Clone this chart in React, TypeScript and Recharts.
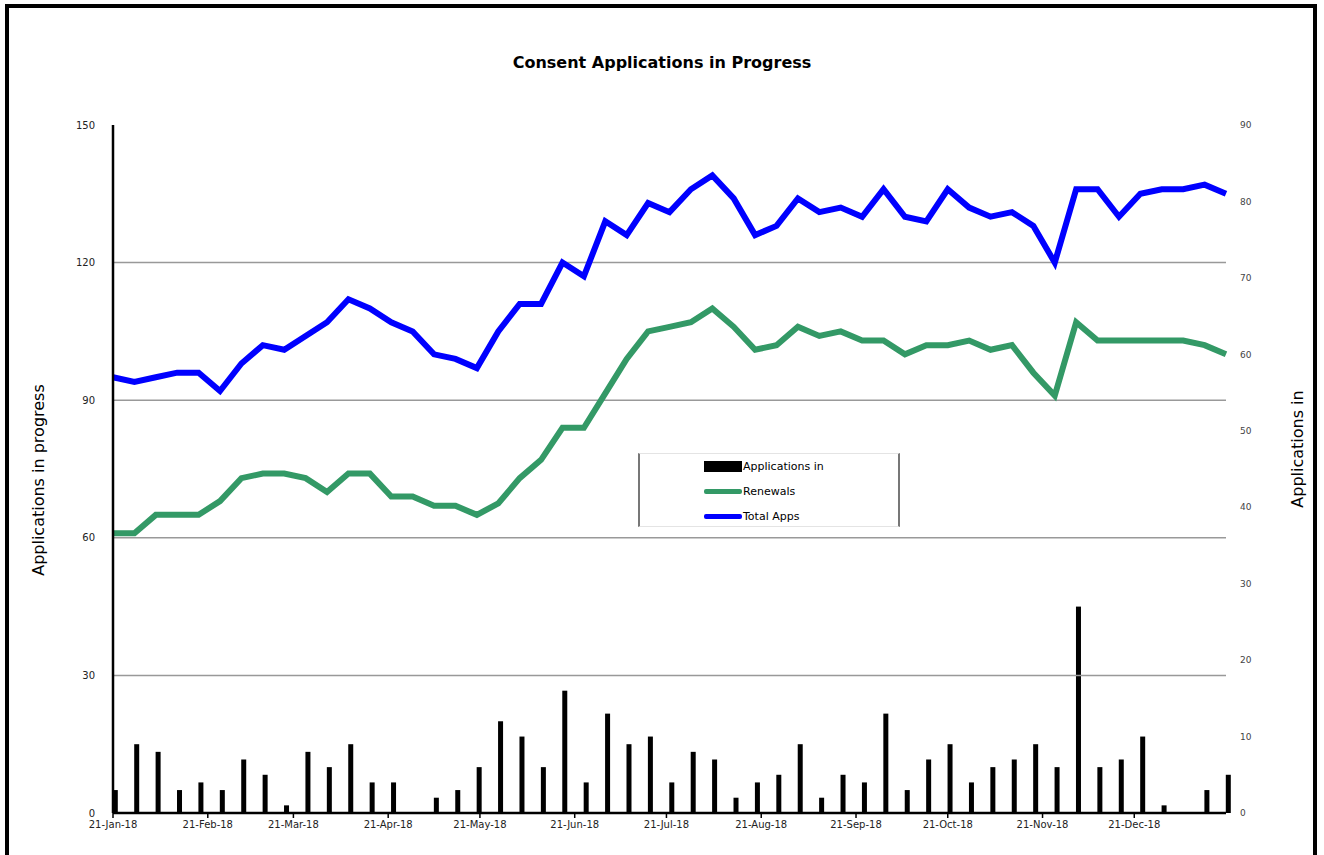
import { ComposedChart, Bar, Line, XAxis, YAxis, ReferenceLine, Legend } from 'recharts';

// weekly snapshots, starting 21-Jan-18
const totalApps = [
  95, 94, 95, 96, 96, 92, 98, 102, 101, 104, 107, 112, 110, 107, 105, 100, 99, 97,
  105, 111, 111, 120, 117, 129, 126, 133, 131, 136, 139, 134, 126, 128, 134, 131, 132,
  130, 136, 130, 129, 136, 132, 130, 131, 128, 120, 136, 136, 130, 135, 136, 136, 137, 135,
];

const renewals = [
  61, 61, 65, 65, 65, 68, 73, 74, 74, 73, 70, 74, 74, 69, 69, 67, 67, 65,
  67.5, 73, 77, 84, 84, 91.5, 99, 105, 106, 107, 110, 106, 101, 102, 106, 104, 105,
  103, 103, 100, 102, 102, 103, 101, 102, 96, 91, 107, 103, 103, 103, 103, 103, 102, 100,
];

const applicationsIn = [
  3, 9, 8, 3, 4, 3, 7, 5, 1, 8, 6, 9, 4, 4, 0, 2, 3, 6,
  12, 10, 6, 16, 4, 13, 9, 10, 4, 8, 7, 2, 4, 5, 9, 2, 5,
  4, 13, 3, 7, 9, 4, 6, 7, 9, 6, 27, 6, 7, 10, 1, 0, 3, 5,
];

const monthTickDays = [0, 31, 59, 90, 120, 151, 181, 212, 243, 273, 304, 334];
const monthTickLabels = [
  '21-Jan-18', '21-Feb-18', '21-Mar-18', '21-Apr-18', '21-May-18', '21-Jun-18',
  '21-Jul-18', '21-Aug-18', '21-Sep-18', '21-Oct-18', '21-Nov-18', '21-Dec-18',
];

const leftTicks = [0, 30, 60, 90, 120, 150];
const rightTicks = [0, 10, 20, 30, 40, 50, 60, 70, 80, 90];
const gridValues = [30, 60, 90, 120];

const data = totalApps.map((t, i) => ({
  day: i * 7,
  total: t,
  renewals: renewals[i],
  appsIn: applicationsIn[i],
}));

const FONT = 'DejaVu Sans, Verdana, sans-serif';

const legendItems = [
  { label: 'Applications in', kind: 'bar', color: '#000000' },
  { label: 'Renewals', kind: 'line', color: '#339966' },
  { label: 'Total Apps', kind: 'line', color: '#0000FF' },
];

function LegendBox() {
  return (
    <div
      style={{
        width: 262,
        height: 74,
        boxSizing: 'border-box',
        borderTop: '1px solid #e4e4e4',
        borderBottom: '1px solid #e4e4e4',
        borderLeft: '2px solid #777',
        borderRight: '2px solid #777',
        background: '#fff',
        fontFamily: FONT,
        fontSize: 11,
        color: '#000',
        paddingTop: 0,
      }}
    >
      {legendItems.map((it) => (
        <div key={it.label} style={{ display: 'flex', alignItems: 'center', height: 25, paddingLeft: 64 }}>
          <div
            style={{
              width: 38,
              height: it.kind === 'bar' ? 11 : 5,
              background: it.color,
              borderRadius: it.kind === 'bar' ? 0 : 2,
            }}
          />
          <span style={{ marginLeft: 1 }}>{it.label}</span>
        </div>
      ))}
    </div>
  );
}

const BarShape = (p: any) => (
  <rect x={p.x + p.width / 2} y={p.y} width={p.width} height={p.height} fill="#000" />
);

export default function App() {
  return (
    <div style={{ position: 'absolute', left: 0, top: 0, width: 1324, height: 855, background: '#fff', overflow: 'hidden' }}>
      <div
        style={{
          position: 'absolute',
          left: 5,
          top: 4,
          width: 1312,
          height: 860,
          boxSizing: 'border-box',
          border: '4px solid #000',
        }}
      />
      <ComposedChart
        width={1324}
        height={855}
        data={data}
        margin={{ top: 125, right: 58, bottom: 12, left: 73 }}
        style={{ position: 'absolute', left: 0, top: 0 }}
      >
        <XAxis
          dataKey="day"
          type="number"
          domain={[0, 364]}
          ticks={monthTickDays}
          interval={0}
          tickFormatter={(v: number) => monthTickLabels[monthTickDays.indexOf(v)] ?? ''}
          height={30}
          axisLine={{ stroke: '#000', strokeWidth: 2.5 }}
          tickLine={{ stroke: '#000', strokeWidth: 1.5 }}
          tickSize={5}
          tickMargin={3}
          tick={{ fontSize: 10, fill: '#222', fontFamily: FONT }}
        />
        <YAxis
          yAxisId="left"
          domain={[0, 150]}
          ticks={leftTicks}
          width={40}
          axisLine={{ stroke: '#000', strokeWidth: 2.5 }}
          tickLine={false}
          tickSize={0}
          tickMargin={18}
          tick={{ fontSize: 10, fill: '#222', fontFamily: FONT }}
        />
        <YAxis
          yAxisId="right"
          orientation="right"
          domain={[0, 90]}
          ticks={rightTicks}
          width={40}
          axisLine={false}
          tickLine={false}
          tickSize={0}
          tickMargin={14}
          tick={{ fontSize: 9, fill: '#444', fontFamily: FONT }}
        />
        {gridValues.map((g) => (
          <ReferenceLine key={g} yAxisId="left" y={g} stroke="#999" strokeWidth={1.5} />
        ))}
        <Bar
          yAxisId="right"
          dataKey="appsIn"
          barSize={5}
          fill="#000"
          shape={BarShape}
          isAnimationActive={false}
        />
        <Line
          yAxisId="left"
          dataKey="renewals"
          stroke="#339966"
          strokeWidth={6}
          dot={false}
          activeDot={false}
          isAnimationActive={false}
        />
        <Line
          yAxisId="left"
          dataKey="total"
          stroke="#0000FF"
          strokeWidth={6}
          dot={false}
          activeDot={false}
          isAnimationActive={false}
        />
        <Legend
          layout="horizontal"
          verticalAlign="middle"
          align="center"
          content={() => <LegendBox />}
          wrapperStyle={{ left: 638, top: 453, width: 262, height: 74 }}
        />
      </ComposedChart>
      <svg width={1324} height={855} style={{ position: 'absolute', left: 0, top: 0, pointerEvents: 'none' }}>
        <text x={662} y={68} textAnchor="middle" fontFamily={FONT} fontSize={16} fontWeight="bold" fill="#000">
          Consent Applications in Progress
        </text>
        <text
          x={44}
          y={480}
          textAnchor="middle"
          fontFamily={FONT}
          fontSize={16}
          fill="#000"
          transform="rotate(-90 44 480)"
        >
          Applications in progress
        </text>
        <text
          x={1303}
          y={449}
          textAnchor="middle"
          fontFamily={FONT}
          fontSize={16}
          fill="#000"
          transform="rotate(-90 1303 449)"
        >
          Applications in
        </text>
      </svg>
    </div>
  );
}
